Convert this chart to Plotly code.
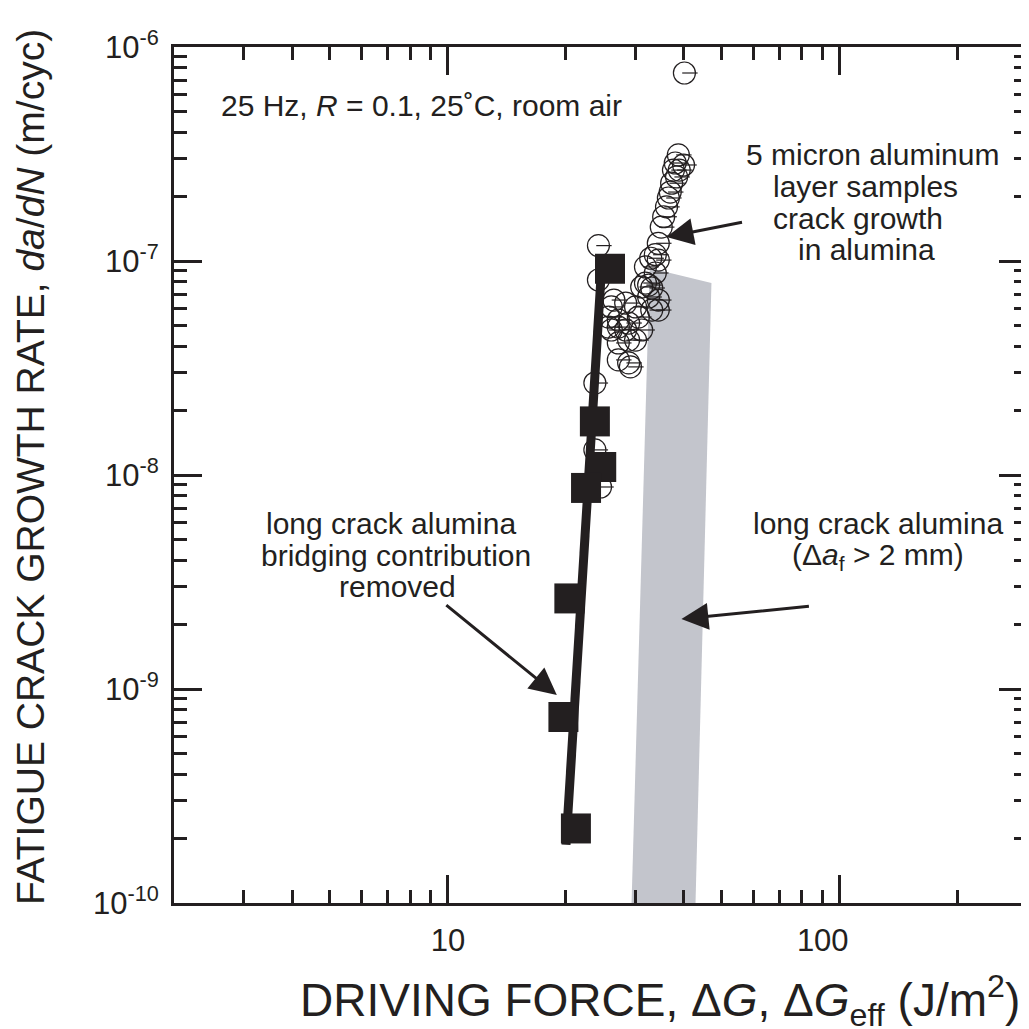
import numpy as np
import plotly.graph_objects as go

INK = "#231f20"
BAND = "#c3c5cc"
FONT = "Arial, Liberation Sans, Helvetica, sans-serif"

# ---- data ----
# open circles: 5 micron aluminum layer samples (crack growth in alumina)
circ_x = [40.1, 38.7, 38.0, 39.9, 38.9, 37.6, 38.3, 37.2, 36.9, 36.5,
          36.1, 35.5, 35.0, 34.4, 33.8, 32.9, 34.4, 33.8, 31.9, 31.2,
          32.5, 34.4, 34.4, 33.1, 31.9, 32.5, 33.1,
          26.1, 28.4, 30.1, 25.7, 27.2, 30.6, 31.2, 28.4, 26.1, 28.9,
          27.2, 27.2, 28.9, 29.2, 28.9, 30.1, 27.2, 25.7, 26.5,
          24.2, 24.2, 23.7, 23.7, 24.5]
circ_y = [7.56e-7, 3.13e-7, 2.87e-7, 2.81e-7, 2.66e-7, 2.66e-7, 2.47e-7, 2.31e-7, 2.10e-7, 1.97e-7,
          1.79e-7, 1.61e-7, 1.44e-7, 1.21e-7, 1.07e-7, 1.03e-7, 1.01e-7, 8.79e-8, 9.38e-8, 7.56e-8,
          6.79e-8, 6.57e-8, 5.90e-8, 7.48e-8, 7.89e-8, 7.72e-8, 5.90e-8,
          6.10e-8, 6.36e-8, 6.10e-8, 5.47e-8, 5.30e-8, 5.47e-8, 4.76e-8, 4.76e-8, 4.76e-8, 4.27e-8,
          4.14e-8, 3.45e-8, 3.34e-8, 3.20e-8, 5.13e-8, 4.27e-8, 4.91e-8, 4.91e-8, 6.57e-8,
          1.18e-7, 8.15e-8, 2.69e-8, 1.31e-8, 8.79e-9]

# filled squares: long crack alumina, bridging contribution removed
sq_x = [25.9, 23.7, 24.6, 22.5, 20.4, 19.7, 21.2]
sq_y = [9.2e-8, 1.78e-8, 1.09e-8, 8.7e-9, 2.65e-9, 7.4e-10, 2.23e-10]

# fitted line through the squares
fit_x = [20.0, 24.7]
fit_y = [1.87e-10, 9.9e-8]

# grey band: long crack alumina (delta a_f > 2 mm)
band_x = [32.7, 47.0, 42.8, 29.4]
band_y = [9.27e-8, 7.89e-8, 1.0e-10, 1.0e-10]

x_tick_vals = [10, 100]
x_tick_text = ["10", "100\u00a0\u00a0\u00a0\u00a0"]
y_tick_vals = [1e-10, 1e-9, 1e-8, 1e-7, 1e-6]
y_tick_text = ["10<sup>-10</sup>", "10<sup>-9</sup>", "10<sup>-8</sup>",
               "10<sup>-7</sup>", "10<sup>-6</sup>"]

# text blocks (one entry per line)
cond_text = "25 Hz, <i>R</i> = 0.1, 25˚C, room air"
layer_lines = ["5 micron aluminum", "layer samples", "crack growth", "in alumina"]
bridging_lines = ["long crack alumina", "bridging contribution", "removed"]
longcrack_lines = ["long crack alumina", "(Δ<i>a</i><sub>f</sub> > 2 mm)"]

# pixel->data factor used to put the short radius stroke inside each circle
HALF_SHIFT = 10 ** (5.5 / 392)

# plot-area geometry (pixels inside the figure) used to place free text
L, T, PW, PH = 166, 39, 853, 856


def px(x):
    return (x - 174) / PW


def py(y):
    return (903 - y) / PH


fig = go.Figure()

fig.add_trace(go.Scatter(
    x=band_x, y=band_y, mode="lines", fill="toself",
    fillcolor=BAND, line=dict(width=0, color=BAND), hoverinfo="skip"))

fig.add_trace(go.Scatter(
    x=circ_x, y=circ_y, mode="markers",
    marker=dict(symbol="circle-open", size=22, color=INK, line=dict(width=1.2, color=INK))))

fig.add_trace(go.Scatter(
    x=[v * HALF_SHIFT for v in circ_x], y=circ_y, mode="markers",
    marker=dict(symbol="line-ew-open", size=11, color=INK, line=dict(width=1.2, color=INK)),
    hoverinfo="skip"))

fig.add_trace(go.Scatter(
    x=fit_x, y=fit_y, mode="lines", line=dict(color=INK, width=9)))

fig.add_trace(go.Scatter(
    x=sq_x, y=sq_y, mode="markers",
    marker=dict(symbol="square", size=30, color=INK, line=dict(width=0))))

axis_common = dict(
    type="log", showline=True, linewidth=3, linecolor=INK, mirror="allticks",
    ticks="inside", ticklen=28, tickwidth=2.5, tickcolor=INK,
    showgrid=False, zeroline=False, automargin=False,
    tickfont=dict(size=31, color=INK, family=FONT),
    minor=dict(ticks="inside", ticklen=13, tickwidth=2.5, tickcolor=INK,
               dtick="D1", showgrid=False),
)

fig.update_xaxes(range=[np.log10(2), np.log10(300)], tickmode="array",
                 tickvals=x_tick_vals, ticktext=x_tick_text,
                 ticklabelstandoff=8, **axis_common)
fig.update_yaxes(range=[-10, -6], tickmode="array",
                 tickvals=y_tick_vals, ticktext=y_tick_text,
                 ticklabelstandoff=6, **axis_common)

ann_font = dict(size=30, color=INK, family=FONT)
annotations = [
    dict(x=px(219), y=py(105), xref="paper", yref="paper", xanchor="left", yanchor="middle",
         text=cond_text, showarrow=False, font=ann_font),
]
for t, xc, yc in zip(layer_lines, [872, 865, 858, 866], [155, 187, 218, 249]):
    annotations.append(dict(x=px(xc), y=py(yc), xref="paper", yref="paper",
                            xanchor="center", yanchor="middle", text=t,
                            showarrow=False, font=ann_font))
for t, xc, yc in zip(bridging_lines, [391, 396, 397], [523, 555, 586]):
    annotations.append(dict(x=px(xc), y=py(yc), xref="paper", yref="paper",
                            xanchor="center", yanchor="middle", text=t,
                            showarrow=False, font=ann_font))
for t, xc, yc in zip(longcrack_lines, [878, 878], [523, 556]):
    annotations.append(dict(x=px(xc), y=py(yc), xref="paper", yref="paper",
                            xanchor="center", yanchor="middle", text=t,
                            showarrow=False, font=ann_font))

arrow = dict(xref="x", yref="y", text="", showarrow=True, arrowhead=2,
             arrowsize=1.8, arrowwidth=3, arrowcolor=INK)
annotations += [
    dict(x=np.log10(36.1), y=-6.888, ax=77, ay=-15, **arrow),
    dict(x=np.log10(18.95), y=-9.028, ax=-112, ay=-91, **arrow),
    dict(x=np.log10(39.4), y=-8.673, ax=129, ay=-13, **arrow),
    # axis titles
    dict(x=px(660), y=py(1000), xref="paper", yref="paper", xanchor="center", yanchor="middle",
         text="DRIVING FORCE, Δ<i>G</i>, Δ<i>G</i><sub>eff</sub> (J/m<sup>2</sup>)",
         showarrow=False, font=dict(size=46, color=INK, family=FONT)),
    dict(x=px(30), y=py(467), xref="paper", yref="paper", xanchor="center", yanchor="middle",
         text="FATIGUE CRACK GROWTH RATE, <i>da</i>/<i>dN</i> (m/cyc)", textangle=-90,
         showarrow=False, font=dict(size=39, color=INK, family=FONT)),
]

fig.update_layout(
    width=1021, height=1021,
    margin=dict(l=L, r=2, t=T, b=126, autoexpand=False),
    paper_bgcolor="white", plot_bgcolor="white",
    showlegend=False, annotations=annotations,
    font=dict(family=FONT, color=INK),
)

fig.write_html("out.html")
